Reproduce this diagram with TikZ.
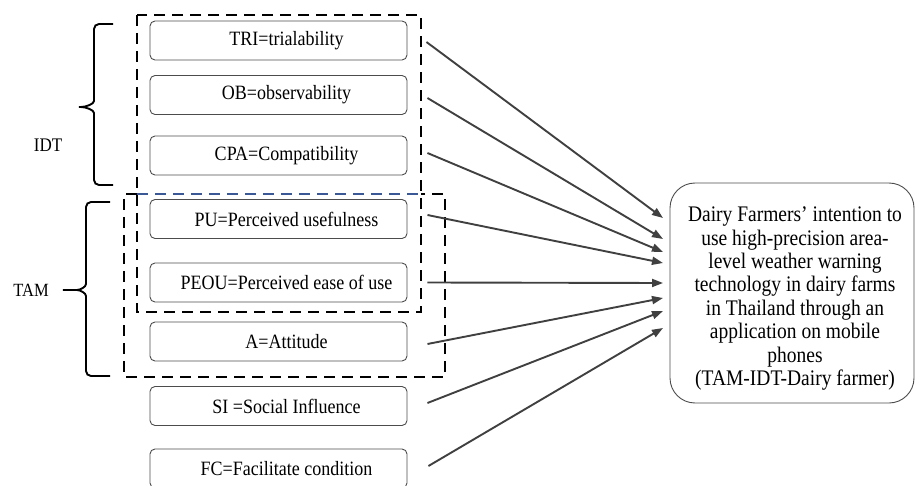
\documentclass[tikz,border=0pt]{standalone}
\usepackage{fontspec}
\setmainfont{Liberation Serif}
\usetikzlibrary{arrows.meta}
\definecolor{dashblue}{RGB}{58,88,150}
\definecolor{arrgray}{RGB}{64,64,64}
\newcommand{\tallt}[1]{\scalebox{1}[1.13]{#1}}
\begin{document}
\begin{tikzpicture}[x=1pt,y=-1pt,
  fbox/.style={draw=black!70, line width=0.9pt, rounded corners=5pt, minimum width=257pt, minimum height=39pt, inner sep=0pt, font=\fontsize{18}{21}\selectfont},
  goalbox/.style={draw=black!70, line width=0.9pt, rounded corners=25pt, minimum width=244pt, minimum height=220pt, inner sep=0pt},
  goaltxt/.style={align=center, inner sep=0pt, font=\fontsize{19.5}{20.5}\selectfont},
  arr/.style={draw=arrgray, line width=1.9pt, -{Triangle[length=11pt,width=8pt]}},
  dbox/.style={draw=black, line width=2.6pt, dash pattern=on 11pt off 7pt},
  bdash/.style={draw=dashblue, line width=2.2pt, dash pattern=on 11pt off 7pt},
  brace/.style={draw=black, line width=1.9pt},
  lbl/.style={inner sep=0pt}
]
\useasboundingbox (0,0) rectangle (915,486);

% dashed group frames
\draw[dbox] (137,15) rectangle (421,312);
\draw[dbox] (137,194) -- (124,194) -- (124,377) -- (445,377) -- (445,194) -- (421,194);
\draw[bdash] (137,194) -- (421,194);

% factor boxes
\node[fbox] (tri)  at (278.5,40.5)  {\hspace*{16pt}\tallt{TRI=trialability}};
\node[fbox] (ob)   at (278.5,95)    {\hspace*{16pt}\tallt{OB=observability}};
\node[fbox] (cpa)  at (278.5,155.5) {\hspace*{16pt}\tallt{CPA=Compatibility}};
\node[fbox] (pu)   at (278.5,219)   {\hspace*{16pt}\tallt{PU=Perceived usefulness}};
\node[fbox] (peou) at (278.5,282.5) {\hspace*{16pt}\tallt{PEOU=Perceived ease of use}};
\node[fbox] (att)  at (278.5,341.5) {\hspace*{16pt}\tallt{A=Attitude}};
\node[fbox] (si)   at (278.5,406)   {\hspace*{16pt}\tallt{SI =Social Influence}};
\node[fbox] (fc)   at (278.5,468.5) {\hspace*{16pt}\tallt{FC=Facilitate condition}};

% goal
\node[goalbox] (goal) at (792,293) {};
\node[goaltxt] (goaltext) at ([xshift=3pt,yshift=-6pt]goal.center) {\scalebox{1}[1.14]{\begin{tabular}{@{}c@{}}Dairy Farmers’ intention to\\ use high-precision area-\\ level weather warning\\ technology in dairy farms\\ in Thailand through an\\ application on mobile\\ phones\\ (TAM-IDT-Dairy farmer)\end{tabular}}};

% arrow end points
\coordinate (e1) at (663,218);
\coordinate (e2) at (663,239);
\coordinate (e3) at (663,252);
\coordinate (e4) at (663,263);
\coordinate (e5) at (663,283);
\coordinate (e6) at (663,298);
\coordinate (e7) at (663,311);
\coordinate (e8) at (663,328);

\draw[arr] ([xshift=19pt,yshift=-1.5pt]tri.east) -- (e1);
\draw[arr] ([xshift=20pt,yshift=-3pt]ob.east) -- (e2);
\draw[arr] ([xshift=20pt,yshift=2.5pt]cpa.east) -- (e3);
\draw[arr] ([xshift=20pt,yshift=4pt]pu.east) -- (e4);
\draw[arr] ([xshift=20pt]peou.east) -- (e5);
\draw[arr] ([xshift=20pt,yshift=-2.5pt]att.east) -- (e6);
\draw[arr] ([xshift=20pt,yshift=3pt]si.east) -- (e7);
\draw[arr] ([xshift=21pt,yshift=2.5pt]fc.east) -- (e8);

% braces
\draw[brace, rounded corners=5pt] (113,24) -- (94,24) -- (94,96)
  .. controls (94,104) and (86,107) .. (76,107)
  .. controls (86,107) and (94,110) .. (94,118) -- (94,185) -- (113,185);
\draw[brace, rounded corners=5pt] (110,202) -- (86,202) -- (86,279)
  .. controls (86,287) and (80,290) .. (72,290) -- (60,290) -- (72,290)
  .. controls (80,290) and (86,293) .. (86,301) -- (86,376) -- (110,376);

% labels
\node[lbl, font=\fontsize{17}{20}\selectfont] (idt) at (48,145) {\tallt{IDT}};
\node[lbl, font=\fontsize{16.5}{20}\selectfont] (tam) at (31,290) {\tallt{TAM}};
\end{tikzpicture}
\end{document}
